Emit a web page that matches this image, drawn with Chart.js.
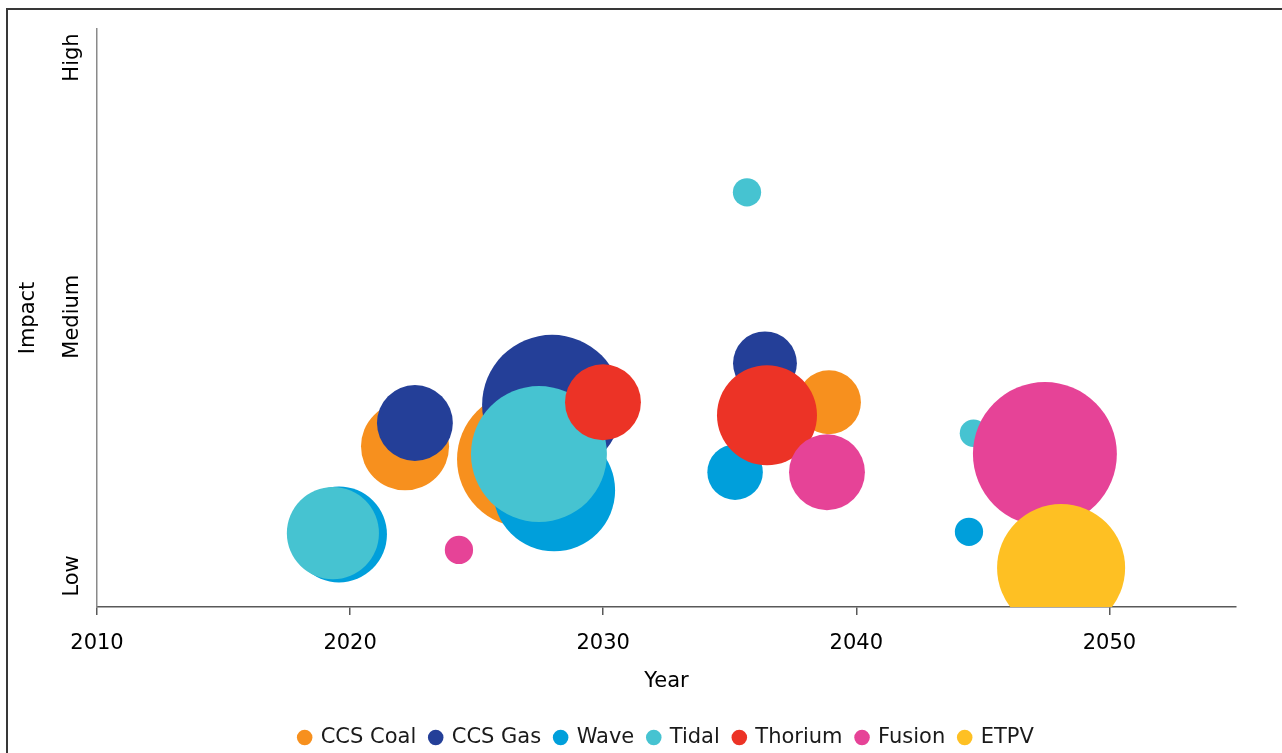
<!DOCTYPE html>
<html>
<head>
<meta charset="utf-8">
<title>Impact by year</title>
<script src="https://cdn.jsdelivr.net/npm/chart.js@4.4.1/dist/chart.umd.min.js"></script>
<style>
  html, body { margin: 0; padding: 0; background: #fff; overflow: hidden; }
  #wrap { position: relative; width: 1282px; height: 753px; overflow: hidden; }
  #frame { position: absolute; left: 6px; top: 8px; width: 1400px; height: 900px;
           border-left: 2px solid #383838; border-top: 2px solid #383838; pointer-events: none; }
  canvas { position: absolute; left: 0; top: 0; }
</style>
</head>
<body>
<div id="wrap">
  <canvas id="impactChart" width="1282" height="758"></canvas>
  <div id="frame"></div>
</div>
<script>
// Series data (year, impact level, bubble size)
const coalYear = [2022.17, 2026.91, 2038.92];
const coalImpact = [1.50, 1.45, 1.67];
const coalSize = [19.4, 46.2, 10.2];

const gasYear = [2022.56, 2027.98, 2036.39];
const gasImpact = [1.59, 1.66, 1.82];
const gasSize = [14.4, 49.0, 10.2];

const waveYear = [2019.56, 2028.06, 2035.21, 2044.45];
const waveImpact = [1.16, 1.33, 1.40, 1.17];
const waveSize = [23.0, 37.2, 7.7, 2.0];

const tidalYear = [2019.32, 2027.46, 2035.68, 2044.63];
const tidalImpact = [1.165, 1.47, 2.48, 1.55];
const tidalSize = [21.2, 46.2, 2.0, 1.9];

const thoriumYear = [2029.99, 2036.47];
const thoriumImpact = [1.67, 1.62];
const thoriumSize = [14.4, 25.0];

const fusionYear = [2024.30, 2038.84, 2047.45];
const fusionImpact = [1.10, 1.40, 1.47];
const fusionSize = [2.0, 14.4, 51.8];

const etpvYear = [2048.09];
const etpvImpact = [1.03];
const etpvSize = [41.0];

const seriesNames = ['CCS Coal', 'CCS Gas', 'Wave', 'Tidal', 'Thorium', 'Fusion', 'ETPV'];
const xTicks = [2010, 2020, 2030, 2040, 2050];
const yTickValues = [1, 2, 3];
const yTickLabels = ['Low', 'Medium', 'High'];

const seriesColors = ['#F7901E', '#243F98', '#009FDB', '#46C3D1', '#EC3326', '#E64397', '#FEC023'];
const FONT = "'DejaVu Sans', Verdana, sans-serif";
const BUBBLE_SCALE = 10; // px radius per sqrt(size), area-proportional like Excel

const seriesData = [
    [coalYear, coalImpact, coalSize],
    [gasYear, gasImpact, gasSize],
    [waveYear, waveImpact, waveSize],
    [tidalYear, tidalImpact, tidalSize],
    [thoriumYear, thoriumImpact, thoriumSize],
    [fusionYear, fusionImpact, fusionSize],
    [etpvYear, etpvImpact, etpvSize]
];

const toPoints = ([years, impact, size]) =>
    years.map((yr, i) => ({ x: yr, y: impact[i], r: Math.sqrt(size[i]) * BUBBLE_SCALE }));

// bubbles get clipped at the plot edge, so don't reserve extra room around the plot for them
Chart.BubbleController.prototype.getMaxOverflow = function () { return 0; };

// Low / Medium / High drawn rotated next to the y axis
const yLevelLabels = {
    id: 'yLevelLabels',
    afterDraw(chart) {
        const yScale = chart.scales.y;
        const c = chart.ctx;
        c.save();
        c.font = '21px ' + FONT;
        c.fillStyle = '#000';
        c.textAlign = 'center';
        c.textBaseline = 'alphabetic';
        yTickValues.forEach((v, i) => {
            c.save();
            c.translate(78, yScale.getPixelForValue(v));
            c.rotate(-Math.PI / 2);
            c.fillText(yTickLabels[i], 0, 0);
            c.restore();
        });
        c.restore();
    }
};

// centre the legend under the plot area instead of the whole canvas
const legendUnderPlot = {
    id: 'legendUnderPlot',
    afterLayout(chart) {
        const lg = chart.legend;
        const dx = (chart.chartArea.left + chart.chartArea.right) / 2 - (lg.left + lg.right) / 2;
        lg.left += dx;
        lg.right += dx;
    }
};

const ctx = document.getElementById('impactChart').getContext('2d');

new Chart(ctx, {
    type: 'bubble',
    data: {
        datasets: seriesNames.map((name, i) => ({
            label: name,
            data: toPoints(seriesData[i]),
            backgroundColor: seriesColors[i],
            hoverBackgroundColor: seriesColors[i],
            borderWidth: 0,
            hoverBorderWidth: 0,
            hoverRadius: 0,
            clip: 0,
            order: seriesNames.length - i // later series on top
        }))
    },
    options: {
        responsive: false,
        animation: false,
        events: [],
        layout: { padding: { left: 0, right: 46, top: 29, bottom: 0 } },
        scales: {
            x: {
                type: 'linear',
                min: 2010,
                max: 2055,
                afterBuildTicks: (scale) => { scale.ticks = xTicks.map(v => ({ value: v })); },
                afterFit: (scale) => { scale.height = 106; },
                ticks: {
                    color: '#000',
                    padding: 16,
                    font: { family: FONT, size: 21 },
                    callback: (v) => String(v)
                },
                grid: { drawOnChartArea: false, drawTicks: true, tickLength: 8, color: '#595959', lineWidth: 1.5 },
                border: { display: true, color: '#595959', width: 1.5 },
                title: {
                    display: true,
                    text: 'Year',
                    color: '#000',
                    font: { family: FONT, size: 21 },
                    padding: { top: 0, bottom: 19 }
                }
            },
            y: {
                type: 'linear',
                min: 0.88,
                max: 3.11,
                afterFit: (scale) => { scale.width = 97; },
                ticks: { display: false },
                grid: { display: false },
                border: { display: true, color: '#8a8a8a', width: 1.5 },
                title: {
                    display: true,
                    text: 'Impact',
                    color: '#000',
                    font: { family: FONT, size: 21 },
                    padding: { top: 16, bottom: 0 }
                }
            }
        },
        plugins: {
            legend: {
                position: 'bottom',
                labels: {
                    usePointStyle: true,
                    pointStyle: 'circle',
                    boxWidth: 11,
                    boxHeight: 11,
                    padding: 14,
                    color: '#1a1a1a',
                    font: { family: FONT, size: 21 },
                    sort: (a, b) => a.datasetIndex - b.datasetIndex
                }
            },
            tooltip: { enabled: false }
        }
    },
    plugins: [yLevelLabels, legendUnderPlot]
});
</script>
</body>
</html>
